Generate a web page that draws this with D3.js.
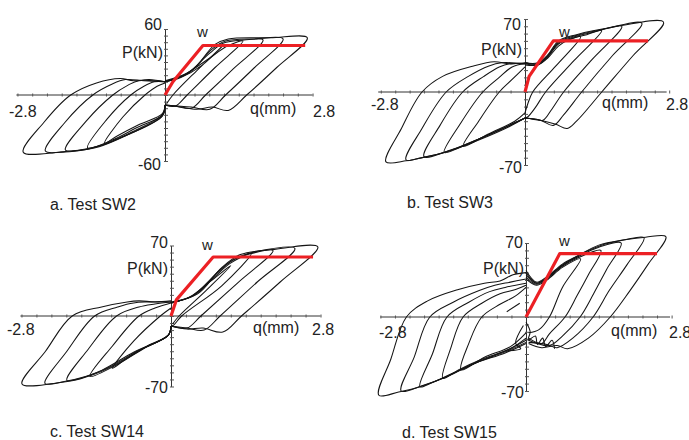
<!DOCTYPE html>
<html>
<head>
<meta charset="utf-8">
<script src="https://cdn.jsdelivr.net/npm/d3@7"></script>
<style>
  html, body { margin: 0; padding: 0; background: #fff; }
  text { font-family: "Liberation Sans", Arial, sans-serif; fill: #222; }
</style>
</head>
<body>
<svg id="chart"></svg>
<script>
// Panel titles and axis end labels.
const titles  = [ 'a. Test SW2', 'b. Test SW3', 'c. Test SW14', 'd. Test SW15' ];
const yMax    = [ 60, 70, 70, 70 ];
const xMax    = 2.8;
const xLabel  = 'q(mm)';
const yLabel  = 'P(kN)';
const wLabel  = 'w';

// Idealised (red) envelopes, [q, P].
const redA = [ [0,0], [0.15,12], [0.72,45], [2.66,45] ];
const redB = [ [0,0], [0.08,15], [0.55,49], [2.39,49] ];
const redC = [ [0,0], [0.1,16], [0.79,58.6], [2.66,58.6] ];
const redD = [ [0,0], [0.65,60], [2.52,60] ];

// Test SW2 : positive and negative half cycles.
const posA = [
  [ [0,12], [0.3,16], [0.7,27], [1.1,45], [0.6,22], [0.15,0], [0.03,-8] ],
  [ [0,12], [0.35,18], [0.8,32], [1.2,45], [1.48,49], [0.95,25], [0.42,0], [0.2,-10], [0,-9] ],
  [ [0,12], [0.4,19], [0.85,38], [1.1,47], [1.5,50], [1.86,50], [1.3,24], [0.77,0], [0.5,-12], [0.2,-10], [0,-9] ],
  [ [0,12], [0.45,20], [0.9,42], [1.15,49], [1.7,51], [2.24,51], [1.7,25], [1.15,0], [0.85,-13], [0.5,-11], [0,-9] ],
  [ [0,13], [0.5,22], [0.95,46], [1.2,51], [2.0,52], [2.7,52], [2.12,25], [1.55,0], [1.2,-14], [0.9,-11], [0.6,-13], [0.3,-11], [0,-9] ]
];
const negA = [
  [ [0,-9], [-0.05,-17], [-0.5,-27], [-0.9,-37], [-1.15,-44], [-0.8,-20], [-0.38,0], [-0.15,8], [0,11] ],
  [ [0,-9], [-0.05,-18], [-0.55,-30], [-1.0,-41], [-1.47,-48], [-1.1,-22], [-0.65,0], [-0.4,8], [-0.2,12], [0,12] ],
  [ [0,-9], [-0.05,-18], [-0.6,-33], [-1.1,-44], [-1.5,-49], [-1.89,-50], [-1.5,-24], [-0.99,0], [-0.7,9], [-0.5,13], [0,12] ],
  [ [0,-9], [-0.05,-19], [-0.7,-36], [-1.25,-47], [-1.8,-51], [-2.27,-51], [-1.9,-25], [-1.37,0], [-1.0,10], [-0.75,14], [-0.4,13], [0,12] ],
  [ [0,-9], [-0.05,-19], [-0.8,-38], [-1.45,-49], [-2.0,-52], [-2.69,-52], [-2.3,-25], [-1.79,0], [-1.3,11], [-0.85,15], [-0.6,13], [-0.3,14], [0,12] ]
];

// Test SW3.
const posB = [
  [ [0,26], [0.25,26], [0.45,33], [0.65,44], [0.85,50], [1.08,53], [0.6,25], [0.15,0], [0.05,-12], [0,-20] ],
  [ [0,27], [0.25,26], [0.45,34], [0.65,46], [0.9,51], [1.2,55], [1.49,59], [0.95,30], [0.4,0], [0.2,-15], [0.05,-24], [0,-25] ],
  [ [0,28], [0.25,27], [0.45,35], [0.65,47], [0.9,52], [1.3,57], [1.88,63], [1.3,31], [0.75,0], [0.5,-18], [0.35,-27], [0.15,-26], [0,-25] ],
  [ [0,28], [0.25,27], [0.45,35], [0.65,48], [0.9,53], [1.5,60], [2.27,66], [1.7,35], [1.1,0], [0.75,-22], [0.55,-32], [0.3,-27], [0,-25] ],
  [ [0,28], [0.25,28], [0.45,36], [0.65,49], [1.0,55], [1.7,62], [2.69,67], [2.1,35], [1.49,0], [1.0,-28], [0.82,-35], [0.6,-31], [0.3,-27], [0,-25] ]
];
const negB = [
  [ [0,-20], [-0.2,-28], [-0.7,-40], [-1.2,-52], [-0.9,-28], [-0.5,0], [-0.25,12], [0,24] ],
  [ [0,-25], [-0.25,-31], [-0.8,-43], [-1.3,-54], [-1.57,-58], [-1.25,-30], [-0.82,0], [-0.5,14], [-0.25,24], [0,27] ],
  [ [0,-25], [-0.3,-32], [-0.85,-44], [-1.4,-55], [-1.96,-62], [-1.65,-32], [-1.21,0], [-0.8,15], [-0.5,24], [-0.3,27], [0,27] ],
  [ [0,-25], [-0.3,-32], [-0.85,-44], [-1.45,-56], [-2.0,-63], [-2.31,-65], [-2.0,-35], [-1.53,0], [-1.1,15], [-0.7,25], [-0.45,28], [0,27] ],
  [ [0,-25], [-0.3,-33], [-0.85,-45], [-1.5,-57], [-2.1,-64], [-2.31,-66], [-2.7,-67], [-2.4,-35], [-2.0,0], [-1.6,15], [-1.0,25], [-0.6,29], [-0.3,27], [0,28] ]
];

// Test SW14.
const posC = [
  [ [0,13], [0.35,19], [0.75,35], [1.12,50], [0.65,25], [0.15,0], [0.03,-8] ],
  [ [0,13], [0.4,20], [0.8,38], [1.1,52], [1.5,62], [0.95,30], [0.2,0], [0.05,-9], [0,-10] ],
  [ [0,13], [0.4,20], [0.85,42], [1.15,55], [1.5,62], [1.91,65], [1.25,33], [0.56,0], [0.3,-12], [0,-10] ],
  [ [0,13], [0.45,21], [0.9,45], [1.2,57], [1.6,64], [2.32,67], [1.62,34], [0.92,0], [0.62,-14], [0.3,-12], [0,-10] ],
  [ [0,14], [0.5,22], [0.95,48], [1.3,61], [1.9,66], [2.75,68.5], [2.05,34], [1.32,0], [0.97,-16], [0.6,-12], [0.3,-13], [0,-10] ]
];
const negC = [
  [ [0,-10], [-0.05,-19], [-0.45,-30], [-0.85,-43], [-1.1,-52], [-0.7,-25], [-0.2,0], [0,8] ],
  [ [0,-10], [-0.05,-19], [-0.5,-32], [-1.0,-48], [-1.52,-60], [-1.1,-30], [-0.6,0], [-0.3,8], [0,13] ],
  [ [0,-10], [-0.05,-19], [-0.55,-33], [-1.1,-50], [-1.5,-59], [-1.95,-64], [-1.55,-33], [-1.02,0], [-0.6,9], [-0.3,12], [0,14] ],
  [ [0,-10], [-0.05,-19], [-0.6,-34], [-1.2,-52], [-1.6,-60], [-2.0,-65], [-2.36,-67], [-1.95,-35], [-1.43,0], [-1.0,9], [-0.7,13], [0,14] ],
  [ [0,-10], [-0.05,-19], [-0.7,-36], [-1.3,-54], [-1.7,-62], [-2.2,-67], [-2.79,-67.5], [-2.35,-35], [-1.85,0], [-1.3,9], [-0.82,14], [-0.6,15], [-0.3,14], [0,15] ]
];

// Test SW15.
const posD = [
  [ [0,36], [0.2,30], [0.4,35], [0.7,47], [1.05,55], [0.7,28], [0.45,0], [0.25,-12], [0.05,-15] ],
  [ [0,38], [0.2,31], [0.4,36], [0.7,48], [1.0,56], [1.44,63], [1.2,40], [0.98,20], [0.75,0], [0.45,-16], [0.3,-25], [0.05,-20] ],
  [ [0,40], [0.2,32], [0.4,37], [0.7,49], [1.0,57], [1.4,66], [1.83,70], [1.55,45], [1.3,22], [1.04,0], [0.7,-18], [0.45,-27], [0.05,-22] ],
  [ [0,42], [0.2,32], [0.4,37], [0.7,49], [1.0,58], [1.4,67], [1.9,73], [2.27,75], [1.95,50], [1.6,25], [1.29,0], [0.9,-20], [0.6,-29], [0.4,-26], [0.05,-24] ],
  [ [0,44], [0.2,33], [0.4,38], [0.7,50], [1.0,58], [1.4,68], [1.9,73], [2.3,75.5], [2.69,76], [2.35,50], [2.0,25], [1.62,0], [1.2,-20], [0.8,-30], [0.6,-27], [0.3,-29], [0.05,-25] ]
];
const negD = [
  [ [0,-15], [-0.3,-28], [-0.8,-38], [-1.25,-50], [-1.1,-25], [-0.85,0], [-0.5,12], [-0.2,20], [0,28] ],
  [ [0,-20], [-0.3,-30], [-0.85,-40], [-1.3,-50], [-1.6,-58], [-1.45,-30], [-1.21,0], [-0.85,13], [-0.5,22], [-0.2,26], [0,30] ],
  [ [0,-22], [-0.35,-31], [-0.9,-42], [-1.4,-53], [-1.8,-62], [-2.04,-66], [-1.8,-35], [-1.52,0], [-1.1,14], [-0.7,24], [-0.4,28], [0,32] ],
  [ [0,-24], [-0.4,-33], [-0.95,-43], [-1.5,-56], [-2.0,-65], [-2.4,-70], [-2.15,-38], [-1.85,0], [-1.4,14], [-0.9,25], [-0.6,30], [-0.3,33], [0,36] ],
  [ [0,-25], [-0.4,-34], [-1.0,-44], [-1.6,-58], [-2.1,-67], [-2.45,-71], [-2.83,-74], [-2.6,-40], [-2.3,0], [-1.9,15], [-1.3,26], [-0.8,32], [-0.5,34], [-0.25,40], [0,42] ]
];
// Slips near the origin of SW15.
const slipD = [
  [ [0,-5], [0.08,-14], [0.04,-22], [0.18,-18], [0.22,-26], [0.32,-20], [0.38,-28], [0.5,-22], [0.55,-30] ],
  [ [-0.05,-8], [-0.2,-25], [-0.1,-30], [-0.35,-32] ],
  [ [-0.37,5], [-0.12,13] ]
];

const redLines = [ redA, redB, redC, redD ];
const posLoops = [ posA, posB, posC, posD ];
const negLoops = [ negA, negB, negC, negD ];
const slips    = [ [], [], [], slipD ];

// Where each panel sits on the page (pixels).
const layout = [
  { cx: 165, cy:  95, kx: 52.7, ky: 1.1,   ax: [ -2.82, 2.8 ],
    yTop: [ 162,  30 ], yBot: [ 161, 170 ], pkn: [ 163,  58 ], w: [ 197,  37 ],
    xl: [   9, 117 ], qmm: [ 250, 114 ], xr: [ 313, 117 ], title: [  50, 210 ] },
  { cx: 525, cy:  92, kx: 51.5, ky: 1.043, ax: [ -2.85, 2.75 ],
    yTop: [ 521,  30 ], yBot: [ 522, 173 ], pkn: [ 522,  55 ], w: [ 559,  37 ],
    xl: [ 371, 110 ], qmm: [ 602, 108 ], xr: [ 666, 110 ], title: [ 407, 208 ] },
  { cx: 171, cy: 316, kx: 53.4, ky: 1.007, ax: [ -2.82, 2.8 ],
    yTop: [ 168, 248 ], yBot: [ 168, 393 ], pkn: [ 168, 274 ], w: [ 202, 250 ],
    xl: [   7, 335 ], qmm: [ 253, 333 ], xr: [ 312, 335 ], title: [  50, 437 ] },
  { cx: 526, cy: 317, kx: 52,   ky: 1.057, ax: [ -2.8, 2.77 ],
    yTop: [ 523, 248 ], yBot: [ 524, 398 ], pkn: [ 524, 274 ], w: [ 559, 246 ],
    xl: [ 379, 338 ], qmm: [ 611, 336 ], xr: [ 669, 338 ], title: [ 402, 438 ] }
];

const svg = d3.select( '#chart' ).attr( 'width', 689 ).attr( 'height', 440 );

layout.forEach( ( L, i ) => {
  const ym = yMax[i];
  const x  = d3.scaleLinear( ).domain( [ -xMax, xMax ] ).range( [ L.cx - xMax * L.kx, L.cx + xMax * L.kx ] );
  const y  = d3.scaleLinear( ).domain( [ -ym, ym ] ).range( [ L.cy + ym * L.ky, L.cy - ym * L.ky ] );
  const g  = svg.append( 'g' );

  // Axes with small crossing ticks.
  const xAxis = d3.axisBottom( x )
    .tickValues( d3.range( -10, 11 ).map( k => k * xMax / 10 ) )
    .tickSize( 3 ).tickSizeOuter( 0 ).tickFormat( '' );
  g.append( 'g' )
    .attr( 'transform', `translate( 0, ${ y( 0 ) } )` )
    .call( xAxis )
    .call( s => {
      s.select( '.domain' ).attr( 'd', `M${ x( L.ax[0] ) },0H${ x( L.ax[1] ) }` ).attr( 'stroke', '#333' );
      s.selectAll( '.tick line' ).attr( 'y1', -1.5 ).attr( 'y2', 1.5 ).attr( 'stroke', '#555' );
    } );

  const yAxis = d3.axisRight( y )
    .tickValues( d3.range( -10, 11 ).map( k => k * ym / 10 ) )
    .tickSize( 3 ).tickSizeOuter( 0 ).tickFormat( '' );
  g.append( 'g' )
    .attr( 'transform', `translate( ${ x( 0 ) }, 0 )` )
    .call( yAxis )
    .call( s => {
      s.select( '.domain' ).attr( 'stroke', '#333' );
      s.selectAll( '.tick line' ).attr( 'x1', -1 ).attr( 'stroke', '#555' );
    } );

  // Hysteresis loops.
  const line = d3.line( )
    .x( d => x( d[0] ) )
    .y( d => y( d[1] ) )
    .curve( d3.curveCatmullRom.alpha( 0.5 ) );
  g.selectAll( 'path.loop' )
    .data( posLoops[i].concat( negLoops[i], slips[i] ) )
    .join( 'path' )
      .attr( 'class', 'loop' )
      .attr( 'd', line )
      .attr( 'fill', 'none' )
      .attr( 'stroke', '#141414' )
      .attr( 'stroke-width', 1.05 );

  // Red idealised envelope.
  g.append( 'path' )
    .attr( 'd', d3.line( ).x( d => x( d[0] ) ).y( d => y( d[1] ) )( redLines[i] ) )
    .attr( 'fill', 'none' )
    .attr( 'stroke', '#ec2024' )
    .attr( 'stroke-width', 3.2 )
    .attr( 'stroke-linejoin', 'round' );

  // Labels.
  const txt = ( p, s, anchor, size ) => g.append( 'text' )
    .attr( 'x', p[0] ).attr( 'y', p[1] )
    .attr( 'text-anchor', anchor )
    .style( 'font-size', size + 'px' )
    .text( s );
  txt( L.yTop,  ym,        'end',   16 );
  txt( L.yBot,  -ym,       'end',   16 );
  txt( L.pkn,   yLabel,    'end',   16 );
  txt( L.w,     wLabel,    'start', 15 );
  txt( L.xl,    -xMax,     'start', 16 );
  txt( L.qmm,   xLabel,    'start', 16 );
  txt( L.xr,    xMax,      'start', 16 );
  txt( L.title, titles[i], 'start', 16 );
} );
</script>
</body>
</html>
